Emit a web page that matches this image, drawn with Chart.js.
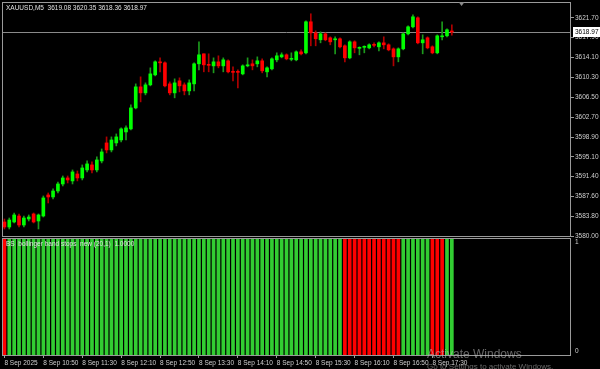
<!DOCTYPE html>
<html>
<head>
<meta charset="utf-8">
<script src="https://cdn.jsdelivr.net/npm/chart.js@4.4.0/dist/chart.umd.min.js"></script>
<style>
html, body { margin: 0; padding: 0; background: #000; width: 600px; height: 369px; overflow: hidden; }
#wrap { position: relative; width: 600px; height: 369px; }
canvas { position: absolute; left: 0; }
#mainChart { top: 0; }
#indChart { top: 236px; }
.txt { position: absolute; font: 6.5px "Liberation Sans", Arial, sans-serif; color: #e0e0e0; white-space: pre; }
.wm { position: absolute; font-family: "Liberation Sans", Arial, sans-serif; color: rgba(190,190,190,0.55); white-space: pre; }
</style>
</head>
<body>
<div id="wrap">
  <canvas id="mainChart" width="600" height="245"></canvas>
  <canvas id="indChart" width="600" height="133"></canvas>
  <div class="txt" style="left:6px;top:4px">XAUUSD,M5  3619.08 3620.35 3618.36 3618.97</div>
  <div class="txt" style="left:6px;top:240px">BS  bollinger band stops  new (20,1)  1.0000</div>
  <div class="wm" style="left:427px;top:347px;font-size:12px">Activate Windows</div>
  <div class="wm" style="left:427px;top:362px;font-size:8px">Go to Settings to activate Windows.</div>
</div>
<script>
// XAUUSD M5 candles
const opens = [
  3582.68, 3581.72, 3582.68, 3583.82, 3582.10, 3583.25, 3584.21, 3582.87, 3583.82, 3587.84,
  3587.46, 3588.60, 3589.94, 3591.09, 3590.52, 3591.85, 3591.09, 3592.62, 3593.58, 3592.62,
  3594.34, 3597.78, 3596.44, 3597.78, 3598.35, 3599.88, 3600.46, 3604.47, 3608.49, 3607.34,
  3608.87, 3610.78, 3613.27, 3613.08, 3609.06, 3607.34, 3609.64, 3608.87, 3607.72, 3609.06,
  3612.89, 3614.80, 3612.70, 3612.50, 3613.27, 3612.50, 3613.46, 3611.36, 3611.36, 3610.97,
  3612.50, 3612.89, 3612.89, 3613.46, 3611.36, 3611.93, 3613.65, 3614.22, 3614.61, 3613.75,
  3613.65, 3615.18, 3614.99, 3620.92, 3618.81, 3617.48, 3618.62, 3617.86, 3617.48, 3617.67,
  3616.33, 3614.03, 3617.09, 3615.85, 3616.04, 3615.94, 3616.52, 3616.14, 3616.90, 3616.52,
  3615.75, 3614.22, 3615.75, 3618.62, 3619.96, 3621.68, 3616.90, 3617.86, 3616.14, 3614.99,
  3618.05, 3618.24, 3619.08
];
const highs = [
  3583.25, 3583.44, 3584.40, 3584.21, 3583.82, 3584.02, 3584.40, 3584.21, 3587.65, 3588.22,
  3588.99, 3590.32, 3591.47, 3591.47, 3592.62, 3592.43, 3593.58, 3594.34, 3594.15, 3595.10,
  3596.63, 3598.93, 3598.93, 3599.50, 3600.65, 3601.03, 3605.05, 3609.06, 3610.40, 3609.25,
  3612.12, 3613.46, 3614.03, 3613.27, 3609.44, 3610.02, 3610.21, 3609.25, 3609.83, 3613.08,
  3617.09, 3614.80, 3614.80, 3614.03, 3614.42, 3614.03, 3613.65, 3612.31, 3611.74, 3612.70,
  3614.03, 3613.65, 3614.22, 3613.84, 3612.31, 3614.03, 3614.99, 3614.99, 3614.80, 3614.99,
  3615.37, 3615.56, 3621.11, 3622.45, 3619.20, 3619.00, 3618.81, 3618.05, 3618.05, 3617.86,
  3616.52, 3617.29, 3617.29, 3616.14, 3616.33, 3616.71, 3616.90, 3617.09, 3618.05, 3616.71,
  3615.94, 3615.94, 3618.81, 3620.15, 3622.26, 3621.87, 3618.43, 3618.05, 3616.33, 3618.43,
  3620.92, 3619.58, 3620.35
];
const lows = [
  3581.34, 3581.34, 3582.49, 3581.72, 3581.72, 3582.87, 3582.49, 3581.34, 3583.63, 3586.31,
  3587.07, 3588.22, 3589.56, 3590.13, 3589.94, 3590.52, 3590.71, 3592.24, 3592.05, 3592.24,
  3593.96, 3595.87, 3596.06, 3597.21, 3597.97, 3598.35, 3600.27, 3604.28, 3605.62, 3606.96,
  3608.68, 3610.59, 3611.36, 3608.49, 3606.96, 3606.39, 3607.53, 3606.96, 3606.96, 3607.72,
  3611.74, 3611.36, 3611.36, 3611.17, 3612.12, 3611.36, 3611.17, 3609.64, 3608.30, 3610.78,
  3612.31, 3611.74, 3612.31, 3611.17, 3610.40, 3611.74, 3613.27, 3614.03, 3613.65, 3613.46,
  3613.46, 3614.61, 3614.80, 3616.33, 3616.33, 3616.90, 3617.29, 3616.52, 3614.80, 3615.94,
  3613.27, 3613.84, 3614.99, 3614.61, 3614.99, 3615.75, 3616.14, 3615.37, 3615.75, 3615.37,
  3612.50, 3613.27, 3615.56, 3618.43, 3619.77, 3616.71, 3614.80, 3615.75, 3614.80, 3614.80,
  3617.48, 3618.05, 3618.36
];
const closes = [
  3581.72, 3583.06, 3584.02, 3582.10, 3583.44, 3583.63, 3582.68, 3584.02, 3587.27, 3587.46,
  3588.60, 3589.94, 3591.09, 3590.71, 3592.24, 3591.09, 3593.00, 3593.77, 3592.62, 3594.53,
  3596.06, 3596.44, 3598.35, 3598.93, 3600.46, 3600.65, 3604.47, 3608.49, 3607.34, 3608.87,
  3610.97, 3613.27, 3613.08, 3608.68, 3607.34, 3609.25, 3608.68, 3607.72, 3609.25, 3612.89,
  3614.61, 3612.70, 3612.60, 3613.27, 3612.50, 3613.65, 3611.36, 3611.26, 3611.26, 3612.50,
  3612.70, 3612.50, 3613.46, 3611.55, 3612.12, 3613.84, 3614.42, 3614.61, 3613.84, 3613.84,
  3615.18, 3614.80, 3620.92, 3618.81, 3617.67, 3618.62, 3617.48, 3617.09, 3617.67, 3616.14,
  3614.03, 3617.09, 3615.94, 3615.94, 3616.14, 3616.52, 3616.42, 3616.90, 3616.52, 3615.56,
  3614.22, 3615.75, 3618.62, 3619.96, 3621.87, 3616.90, 3617.48, 3615.94, 3614.99, 3618.24,
  3618.24, 3619.39, 3618.97
];

// bollinger band stops histogram: 1 = up (green), -1 = down (red)
const bbsTrend = [
  -1, 1, 1, 1, 1, 1, 1, 1, 1, 1, 1, 1, 1, 1, 1, 1, 1, 1, 1, 1,
  1, 1, 1, 1, 1, 1, 1, 1, 1, 1, 1, 1, 1, 1, 1, 1, 1, 1, 1, 1,
  1, 1, 1, 1, 1, 1, 1, 1, 1, 1, 1, 1, 1, 1, 1, 1, 1, 1, 1, 1,
  1, 1, 1, 1, 1, 1, 1, 1, 1, 1,
  -1, -1, -1, -1, -1, -1, -1, -1, -1, -1, -1, -1,
  1, 1, 1, 1, 1, 1,
  -1, -1, -1,
  1, 1
];

const priceTicks = [3580.00, 3583.80, 3587.60, 3591.40, 3595.10, 3598.90, 3602.70, 3606.50, 3610.30, 3614.10, 3617.90, 3621.70];
const timeTicks = ['8 Sep 2025', '8 Sep 10:50', '8 Sep 11:30', '8 Sep 12:10', '8 Sep 12:50', '8 Sep 13:30',
  '8 Sep 14:10', '8 Sep 14:50', '8 Sep 15:30', '8 Sep 16:10', '8 Sep 16:50', '8 Sep 17:30'];
const barsPerTick = 8;
const totalSlots = 117; // candles plus the empty shift area on the right

const lastClose = closes[closes.length - 1];
const slots = [];
for (let i = 0; i < totalSlots; i++) slots.push(i);

const upBody = '#00ff00', downBody = '#ff0000';
const upWick = '#1c9a1c', downWick = '#b00000';
const frameColor = '#9a9a9a';
const tickFont = { family: '"Liberation Sans", Arial, sans-serif', size: 6.5 };

let bodyColors = [], wickColors = [];
opens.forEach(function(o, i) {
    let up = closes[i] >= o;
    bodyColors.push(up ? upBody : downBody);
    wickColors.push(up ? upWick : downWick);
});

// gray frame around plot area
const framePlugin = {
    id: 'frame',
    afterDraw(chart) {
        let a = chart.chartArea, ctx = chart.ctx;
        ctx.save();
        ctx.strokeStyle = frameColor;
        ctx.lineWidth = 1;
        ctx.strokeRect(Math.round(a.left) + 0.5, Math.round(a.top) + 0.5, Math.round(a.width) - 1, Math.round(a.height));
        ctx.restore();
    }
};

// bid line, its price box and the shift marker
const bidPlugin = {
    id: 'bid',
    beforeDatasetsDraw(chart) {
        let a = chart.chartArea, ctx = chart.ctx;
        let y = Math.round(chart.scales.y.getPixelForValue(lastClose)) + 0.5;
        ctx.save();
        ctx.strokeStyle = '#8a8a8a';
        ctx.lineWidth = 1;
        ctx.beginPath();
        ctx.moveTo(a.left, y);
        ctx.lineTo(a.right, y);
        ctx.stroke();
        ctx.restore();
    },
    afterDraw(chart) {
        let a = chart.chartArea, ctx = chart.ctx;
        let y = Math.round(chart.scales.y.getPixelForValue(lastClose));
        ctx.save();
        ctx.fillStyle = '#ffffff';
        ctx.fillRect(a.right + 2, y - 5, 27, 10);
        ctx.fillStyle = '#000000';
        ctx.font = '6.5px "Liberation Sans", Arial, sans-serif';
        ctx.textBaseline = 'middle';
        ctx.fillText(lastClose.toFixed(2), a.right + 4, y + 0.5);
        let mx = chart.scales.x.getPixelForValue(opens.length + 1);
        ctx.fillStyle = '#8a8a8a';
        ctx.beginPath();
        ctx.moveTo(mx - 3, a.top);
        ctx.lineTo(mx + 3, a.top);
        ctx.lineTo(mx, a.top + 4);
        ctx.closePath();
        ctx.fill();
        ctx.restore();
    }
};

new Chart(document.getElementById('mainChart'), {
    type: 'bar',
    data: {
        labels: slots,
        datasets: [{
            label: 'body',
            data: opens.map(function(o, i) { return [o, closes[i]]; }),
            backgroundColor: bodyColors,
            barThickness: 3,
            minBarLength: 1,
            grouped: false,
            order: 0
        }, {
            label: 'wick',
            data: lows.map(function(l, i) { return [l, highs[i]]; }),
            backgroundColor: wickColors,
            barThickness: 1,
            grouped: false,
            order: 1
        }]
    },
    options: {
        responsive: false,
        devicePixelRatio: 1,
        animation: false,
        layout: { padding: { left: 2, top: 2, right: 0, bottom: 9 } },
        plugins: { legend: { display: false }, tooltip: { enabled: false } },
        scales: {
            x: { display: false, offset: true },
            y: {
                position: 'right',
                min: 3580,
                max: 3624.7,
                afterBuildTicks(scale) { scale.ticks = priceTicks.map(function(v) { return { value: v }; }); },
                afterFit(scale) { scale.width = 29; scale.paddingTop = 0; scale.paddingBottom = 0; },
                border: { display: false },
                grid: { drawOnChartArea: false, drawTicks: true, tickLength: 3, color: frameColor },
                ticks: {
                    color: '#d0d0d0',
                    font: tickFont,
                    padding: 1,
                    callback: function(v) { return Number(v).toFixed(2); }
                }
            }
        }
    },
    plugins: [framePlugin, bidPlugin]
});

new Chart(document.getElementById('indChart'), {
    type: 'bar',
    data: {
        labels: slots,
        datasets: [{
            label: 'BBS',
            data: bbsTrend.map(function() { return 1; }),
            backgroundColor: bbsTrend.map(function(t) { return t > 0 ? '#32cd32' : '#ff0000'; }),
            barThickness: 3,
            base: -0.07
        }]
    },
    options: {
        responsive: false,
        devicePixelRatio: 1,
        animation: false,
        layout: { padding: { left: 2, top: 2, right: 0, bottom: 0 } },
        plugins: { legend: { display: false }, tooltip: { enabled: false } },
        scales: {
            x: {
                offset: true,
                afterBuildTicks(scale) {
                    scale.ticks = scale.ticks.filter(function(t) {
                        return t.value % barsPerTick === 0 && t.value / barsPerTick < timeTicks.length;
                    });
                },
                afterFit(scale) { scale.height = 14; scale.paddingLeft = 0; scale.paddingRight = 0; },
                border: { display: false },
                grid: { drawOnChartArea: false, drawTicks: true, tickLength: 3, color: frameColor, offset: false },
                ticks: {
                    autoSkip: false,
                    maxRotation: 0,
                    minRotation: 0,
                    align: 'start',
                    padding: 1,
                    color: '#d0d0d0',
                    font: tickFont,
                    callback: function(v) { return timeTicks[v / barsPerTick]; }
                }
            },
            y: {
                position: 'right',
                min: -0.07,
                max: 1,
                afterBuildTicks(scale) { scale.ticks = [{ value: 0 }, { value: 1 }]; },
                afterFit(scale) { scale.width = 29; scale.paddingTop = 0; scale.paddingBottom = 0; },
                border: { display: false },
                grid: { drawOnChartArea: false, drawTicks: false },
                ticks: { color: '#d0d0d0', font: tickFont, padding: 4, labelOffset: 4 }
            }
        }
    },
    plugins: [framePlugin]
});
</script>
</body>
</html>
